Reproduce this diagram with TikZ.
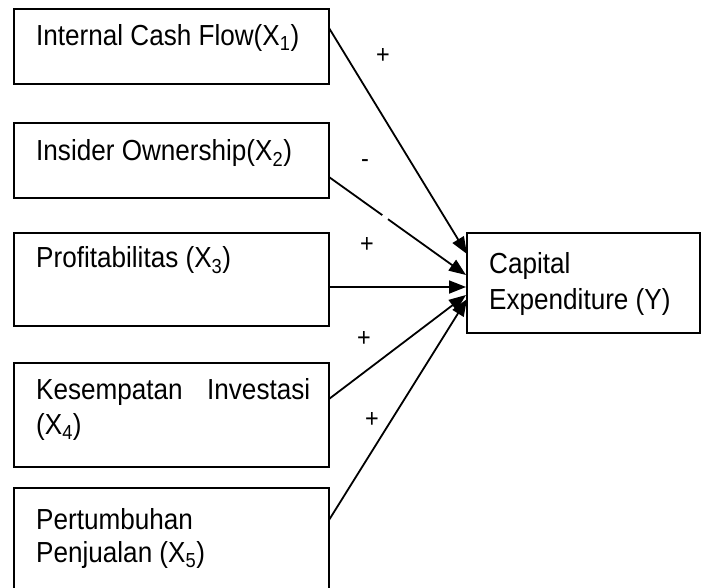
\documentclass[tikz,border=0pt]{standalone}
\usepackage{fontspec}
\setmainfont[FakeStretch=0.9]{Liberation Sans}
\usetikzlibrary{arrows.meta,calc}
\tikzset{
  box/.style={draw, line width=1.7pt, minimum width=315pt, inner sep=0pt, outer sep=0pt},
  capbox/.style={draw, line width=1.7pt, minimum width=233pt, minimum height=100pt, inner sep=0pt, outer sep=0pt},
  txt/.style={anchor=west, inner sep=0pt, font=\fontsize{29}{36}\selectfont},
  sign/.style={inner sep=0pt, font=\fontsize{26}{28}\selectfont},
  conn/.style={line width=1.8pt, -{Triangle[length=17pt,width=13pt]}}
}
\begin{document}
\begin{tikzpicture}[x=1pt,y=-1pt]
\useasboundingbox (0,0) rectangle (703,587);
\clip (0,0) rectangle (703,587);
% boxes
\node[box, minimum height=75pt]  (b1) at (171.5,46.5) {};
\node[box, minimum height=75pt]  (b2) at (171.5,160.5) {};
\node[box, minimum height=93pt]  (b3) at (171.5,279.5) {};
\node[box, minimum height=104pt] (b4) at (171.5,415) {};
\node[box, minimum height=110pt] (b5) at (171.5,543) {};
\node[capbox] (cap) at (583.5,283) {};
% texts
\node[txt] (t1) at (36,38) {Internal Cash Flow(X\textsubscript{1})};
\node[txt] (t2) at (36,153) {Insider Ownership(X\textsubscript{2})};
\node[txt] (t3) at (36,260) {Profitabilitas (X\textsubscript{3})};
\node[txt] (t4a) at (36,392) {\makebox[274pt][s]{Kesempatan Investasi}};
\node[txt] (t4b) at (36,427) {(X\textsubscript{4})};
\node[txt] (t5a) at (36,519) {Pertumbuhan};
\node[txt] (t5b) at (36,555) {Penjualan (X\textsubscript{5})};
\node[txt] (tc1) at (489,266) {Capital};
\node[txt] (tc2) at (489,302) {Expenditure (Y)};
% connectors
\coordinate (s1) at ([yshift=-19pt]b1.north east);
\coordinate (s2) at ([yshift=-54pt]b2.north east);
\coordinate (s3) at ([yshift=-54pt]b3.north east);
\coordinate (s4) at ([yshift=-36pt]b4.north east);
\coordinate (s5) at ([yshift=-32pt]b5.north east);
\coordinate (e1) at ([yshift=-21pt]cap.north west);
\coordinate (e2) at ([yshift=-42pt,xshift=-1pt]cap.north west);
\coordinate (e3) at ([yshift=-54pt,xshift=-1pt]cap.north west);
\coordinate (e4) at ([yshift=-62pt,xshift=-1pt]cap.north west);
\coordinate (e5) at ([yshift=-66pt]cap.north west);
\draw[conn] (s1) -- (e1);
\draw[conn] (s2) -- (e2);
\draw[white, line width=4.5pt] ($(s2)!0.39!(e2)$) -- ($(s2)!0.43!(e2)$);
\draw[conn] (s3) -- (e3);
\draw[conn] (s4) -- (e4);
\draw[conn] (s5) -- (e5);
% signs
\node[sign] (p1) at (383,56) {+};
\node[sign] (p2) at (365,164) {-};
\node[sign] (p3) at (367,245) {+};
\node[sign] (p4) at (364,339) {+};
\node[sign] (p5) at (372,420) {+};
\end{tikzpicture}
\end{document}
